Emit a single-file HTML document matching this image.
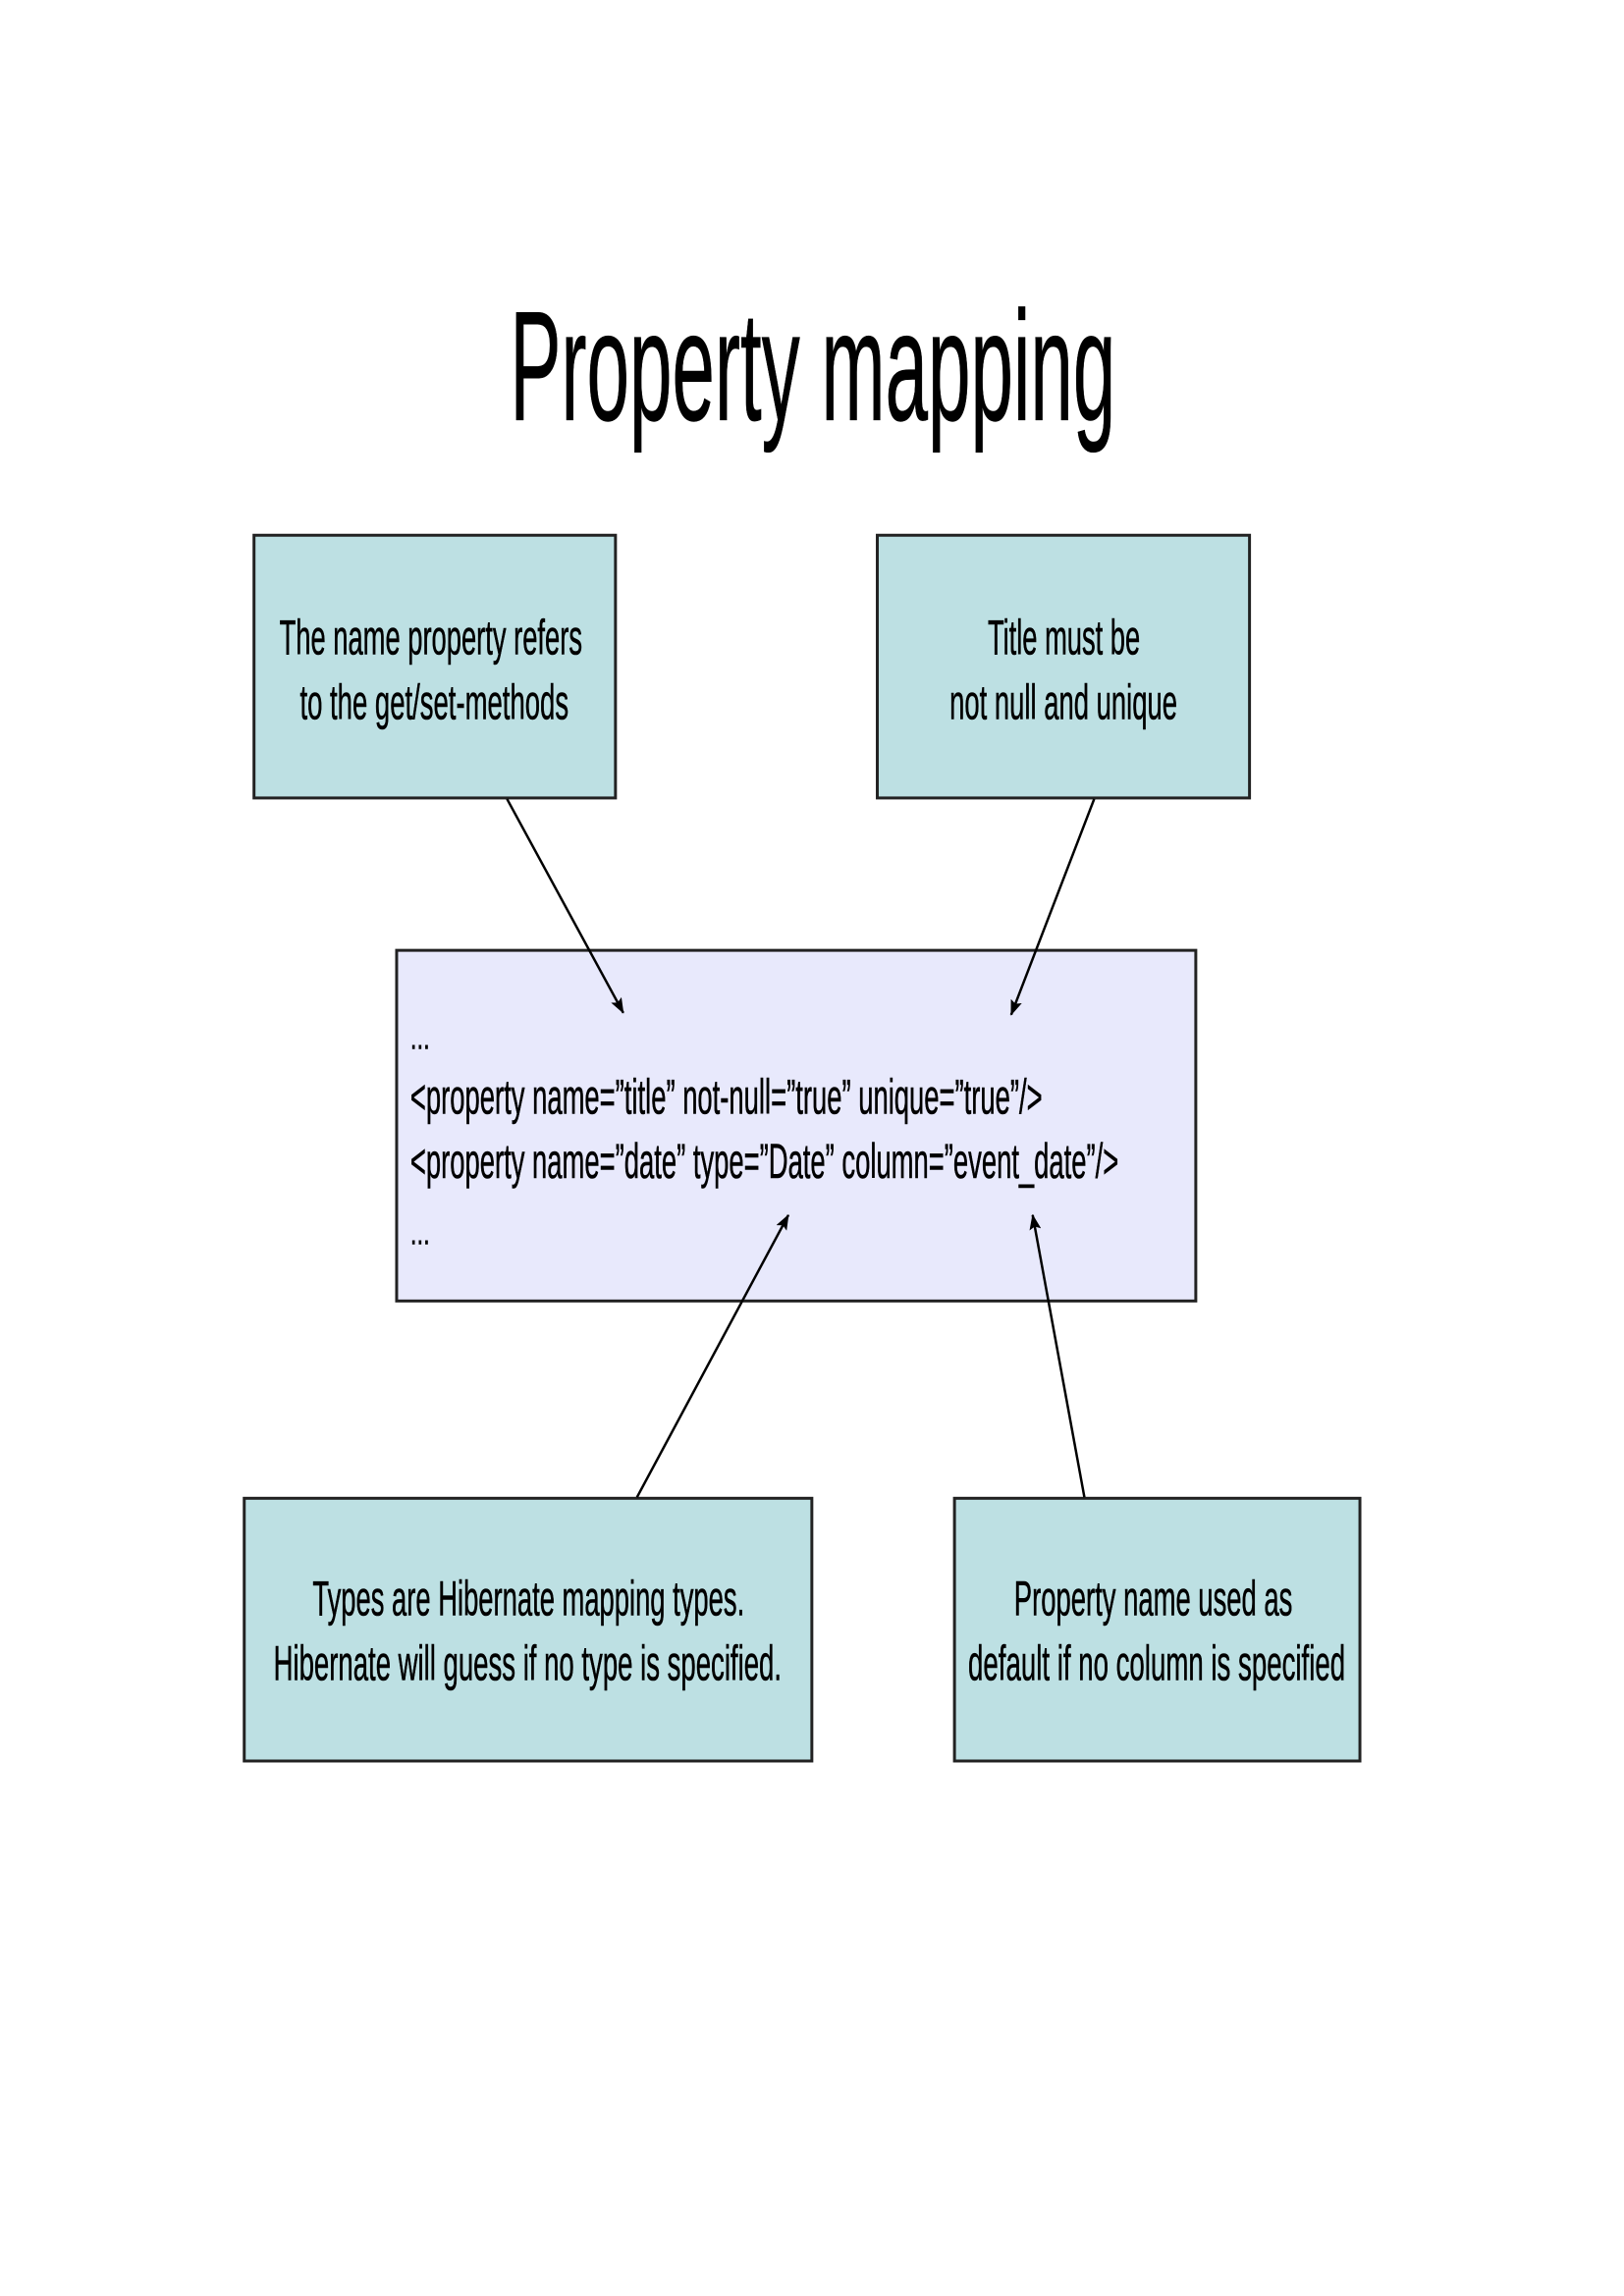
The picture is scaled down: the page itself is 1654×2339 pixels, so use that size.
<!DOCTYPE html>
<html><head><meta charset="utf-8"><style>
html,body{margin:0;padding:0;background:#fff;}
svg{display:block;}
text{font-family:"Liberation Sans",sans-serif;fill:#000;stroke:#000;stroke-width:0.6;}
</style></head><body>
<svg width="1654" height="2339" viewBox="0 0 1654 2339" xmlns="http://www.w3.org/2000/svg">
<defs>
<marker id="ah" markerWidth="16" markerHeight="12" refX="15" refY="6" orient="auto" markerUnits="userSpaceOnUse">
<path d="M0,0 L16,6 L0,12 L3,6 z" fill="#000"/>
</marker>
</defs>
<rect width="1654" height="2339" fill="#fff"/>
<g transform="scale(0.995)">
<text x="522" y="430" font-size="160" textLength="620" lengthAdjust="spacingAndGlyphs">Property mapping</text>

<rect x="260" y="548" width="370" height="269" fill="#bde0e3" stroke="#222" stroke-width="3"/>
<text x="286" y="670" font-size="50" textLength="310" lengthAdjust="spacingAndGlyphs">The name property refers</text>
<text x="307" y="736" font-size="50" textLength="275" lengthAdjust="spacingAndGlyphs">to the get/set-methods</text>

<rect x="898" y="548" width="381" height="269" fill="#bde0e3" stroke="#222" stroke-width="3"/>
<text x="1011" y="670" font-size="50" textLength="156" lengthAdjust="spacingAndGlyphs">Title must be</text>
<text x="972" y="736" font-size="50" textLength="233" lengthAdjust="spacingAndGlyphs">not null and unique</text>

<rect x="406" y="973" width="818" height="359" fill="#e8e9fc" stroke="#222" stroke-width="3"/>
<text x="420" y="1074" font-size="34" textLength="20" lengthAdjust="spacingAndGlyphs">...</text>
<text x="420" y="1140" font-size="50" textLength="647" lengthAdjust="spacingAndGlyphs">&lt;property name=”title” not-null=”true” unique=”true”/&gt;</text>
<text x="420" y="1206" font-size="50" textLength="725" lengthAdjust="spacingAndGlyphs">&lt;property name=”date” type=”Date” column=”event_date”/&gt;</text>
<text x="420" y="1274" font-size="34" textLength="20" lengthAdjust="spacingAndGlyphs">...</text>

<rect x="250" y="1534" width="581" height="269" fill="#bde0e3" stroke="#222" stroke-width="3"/>
<text x="320" y="1654" font-size="50" textLength="442" lengthAdjust="spacingAndGlyphs">Types are Hibernate mapping types.</text>
<text x="280" y="1720" font-size="50" textLength="520" lengthAdjust="spacingAndGlyphs">Hibernate will guess if no type is specified.</text>

<rect x="977" y="1534" width="415" height="269" fill="#bde0e3" stroke="#222" stroke-width="3"/>
<text x="1038" y="1654" font-size="50" textLength="285" lengthAdjust="spacingAndGlyphs">Property name used as</text>
<text x="991" y="1720" font-size="50" textLength="386" lengthAdjust="spacingAndGlyphs">default if no column is specified</text>

<g stroke="#000" stroke-width="2.5" fill="none">
<line x1="519" y1="818" x2="638" y2="1037" marker-end="url(#ah)"/>
<line x1="1120" y1="818" x2="1035" y2="1039" marker-end="url(#ah)"/>
<line x1="652" y1="1533" x2="807" y2="1244" marker-end="url(#ah)"/>
<line x1="1110" y1="1533" x2="1057" y2="1244" marker-end="url(#ah)"/>
</g>
</g>
</svg>
</body></html>
